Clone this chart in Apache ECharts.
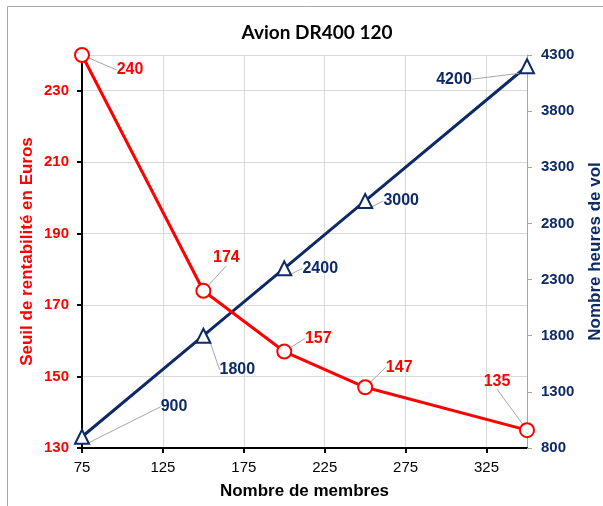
<!DOCTYPE html>
<html><head><meta charset="utf-8">
<script src="https://cdn.jsdelivr.net/npm/echarts@6/dist/echarts.min.js"></script>
<style>html,body{margin:0;padding:0;background:#fff}#c{width:603px;height:506px}</style>
</head><body><div id="c"></div>
<script>
var members = [75, 150, 200, 250, 350];
var seuilEuros = [240, 174, 157, 147, 135];
var heuresVol = [900, 1800, 2400, 3000, 4200];
var xTicks = {min: 75, max: 350, interval: 50};
var leftTicks = {min: 130, max: 240, interval: 20};
var rightTicks = {min: 800, max: 4300, interval: 500};

var redOffsets = [[48,15],[23,-33],[34,-13],[34,-20],[-30,-49]];
var blueOffsets = [[92,-30],[34,34],[36,0],[36,0],[-73,13]];
var RED = '#ff0000', NAVY = '#0d2a66';
var FONT = '"Liberation Sans", Arial, sans-serif';

var chart = echarts.init(document.getElementById('c'), null, {renderer: 'canvas'});
chart.setOption({
  backgroundColor: '#fff',
  animation: false,
  graphic: [{type: 'rect', shape: {x: 7.5, y: 6.5, width: 700, height: 600}, style: {fill: 'none', stroke: '#a6a6a6', lineWidth: 1}, z: -1}],
  title: {text: 'Avion DR400 120', left: 312, top: 18, textAlign: 'center',
    textStyle: {fontFamily: 'Lato, "Open Sans", sans-serif', fontWeight: 'bold', fontSize: 19, color: '#000'}},
  grid: {left: 82, right: 76, top: 55, bottom: 58, containLabel: false, outerBoundsMode: 'none'},
  xAxis: {
    type: 'value', min: xTicks.min, max: xTicks.max, interval: xTicks.interval,
    name: 'Nombre de membres', nameLocation: 'middle', nameGap: 35, nameMoveOverlap: false,
    nameTextStyle: {fontFamily: FONT, fontWeight: 'bold', fontSize: 17, color: '#000'},
    axisLine: {lineStyle: {color: '#000', width: 2}},
    axisTick: {show: true, length: 5, lineStyle: {color: '#000', width: 2}},
    axisLabel: {showMaxLabel: false, fontFamily: FONT, fontSize: 15, color: '#000', margin: 12},
    splitLine: {show: true, lineStyle: {color: '#d9d9d9', width: 1}}
  },
  yAxis: [{
    type: 'value', position: 'left', min: leftTicks.min, max: leftTicks.max, interval: leftTicks.interval,
    name: 'Seuil de rentabilité en Euros', nameLocation: 'middle', nameGap: 46, nameMoveOverlap: false,
    nameTextStyle: {fontFamily: FONT, fontWeight: 'bold', fontSize: 17, color: RED},
    axisLine: {show: true, lineStyle: {color: '#000', width: 2}},
    axisTick: {show: true, length: 5, lineStyle: {color: '#000', width: 2}},
    axisLabel: {showMaxLabel: false, fontFamily: FONT, fontWeight: 'bold', fontSize: 15, color: RED, margin: 13},
    splitLine: {show: true, lineStyle: {color: '#d9d9d9', width: 1}}
  }, {
    type: 'value', position: 'right', min: rightTicks.min, max: rightTicks.max, interval: rightTicks.interval,
    name: 'Nombre heures de vol', nameLocation: 'middle', nameGap: 60, nameRotate: 90, nameMoveOverlap: false,
    nameTextStyle: {fontFamily: FONT, fontWeight: 'bold', fontSize: 17, color: NAVY},
    axisLine: {show: true, lineStyle: {color: '#a6a6a6', width: 1}},
    axisTick: {show: true, length: 5, lineStyle: {color: '#a6a6a6', width: 1}},
    axisLabel: {formatter: function (v) { return String(v); }, fontFamily: FONT, fontWeight: 'bold', fontSize: 15, color: NAVY, margin: 14},
    splitLine: {show: false}
  }],
  series: [{
    type: 'line', yAxisIndex: 1, z: 3,
    data: members.map(function (m, i) { return [m, heuresVol[i]]; }),
    symbol: 'triangle', symbolSize: 14, showAllSymbol: true,
    lineStyle: {color: NAVY, width: 3},
    itemStyle: {color: '#fff', borderColor: NAVY, borderWidth: 2},
    label: {show: true, position: 'inside', formatter: function (p) { return p.value[1]; },
      fontFamily: FONT, fontWeight: 'bold', fontSize: 16, color: NAVY},
    labelLayout: function (p) { var o = blueOffsets[p.dataIndex]; return {dx: o[0], dy: o[1]}; },
    labelLine: {show: true, lineStyle: {color: '#a6a6a6', width: 1}}
  }, {
    type: 'line', yAxisIndex: 0, z: 4,
    data: members.map(function (m, i) { return [m, seuilEuros[i]]; }),
    symbol: 'circle', symbolSize: 14, showAllSymbol: true,
    lineStyle: {color: RED, width: 3},
    itemStyle: {color: '#fff', borderColor: RED, borderWidth: 2},
    label: {show: true, position: 'inside', formatter: function (p) { return p.value[1]; },
      fontFamily: FONT, fontWeight: 'bold', fontSize: 16, color: RED},
    labelLayout: function (p) { var o = redOffsets[p.dataIndex]; return {dx: o[0], dy: o[1]}; },
    labelLine: {show: true, lineStyle: {color: '#a6a6a6', width: 1}}
  }]
});
</script></body></html>
